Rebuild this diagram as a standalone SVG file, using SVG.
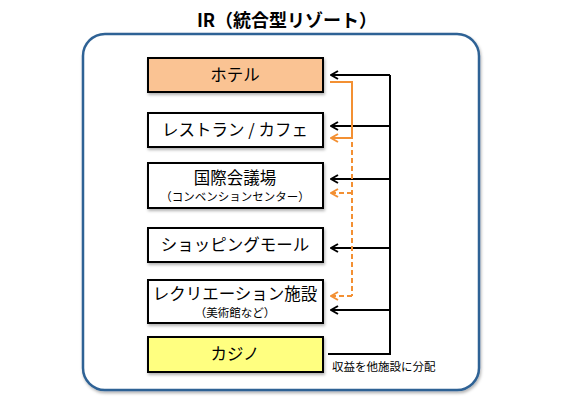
<svg xmlns="http://www.w3.org/2000/svg" width="570" height="400" viewBox="0 0 570 400">
<style>
  text { font-family: "Noto Sans CJK JP", "Liberation Sans", sans-serif; fill: #000; text-anchor: middle; }
  .box { stroke: #000; stroke-width: 2; }
  .lbl { font-size: 16.5px; }
  .sub { font-size: 11.5px; }
  .blk { stroke: #000; stroke-width: 2; fill: none; }
  .org { stroke: #f39033; stroke-width: 2; fill: none; }
  .dash { stroke-dasharray: 5 3; }
</style>
<defs>
  <marker id="ab" viewBox="0 0 10 10" refX="9" refY="5" markerWidth="10" markerHeight="10" orient="auto" markerUnits="userSpaceOnUse">
    <polyline points="2,1 9,5 2,9" fill="none" stroke="#000" stroke-width="2"/>
  </marker>
  <marker id="ao" viewBox="0 0 10 10" refX="9" refY="5" markerWidth="10" markerHeight="10" orient="auto" markerUnits="userSpaceOnUse">
    <polyline points="2,1 9,5 2,9" fill="none" stroke="#f39033" stroke-width="2"/>
  </marker>
  <filter id="sh" x="-10%" y="-10%" width="130%" height="140%">
    <feDropShadow dx="1" dy="2" stdDeviation="1.5" flood-color="#000" flood-opacity="0.3"/>
  </filter>
</defs>
<rect width="570" height="400" fill="#fff"/>
<text x="287" y="27" style="font-size:18px;font-weight:bold">IR（統合型リゾート）</text>
<rect id="frame" x="83" y="34" width="396" height="356" rx="22" fill="#fff" stroke="#2f6295" stroke-width="2.5" filter="url(#sh)"/>

<g id="hotel">
  <rect class="box" x="148" y="58" width="175" height="34" fill="#fac393" filter="url(#sh)"/>
  <text class="lbl" x="235" y="81">ホテル</text>
</g>
<g id="restaurant">
  <rect class="box" x="148" y="113" width="175" height="34" fill="#fff" filter="url(#sh)"/>
  <text class="lbl" x="235" y="136">レストラン / カフェ</text>
</g>
<g id="convention">
  <rect class="box" x="148" y="163" width="175" height="45" fill="#fff" filter="url(#sh)"/>
  <text class="lbl" x="235" y="184">国際会議場</text>
  <text class="sub" x="235" y="201">（コンベンションセンター）</text>
</g>
<g id="shopping">
  <rect class="box" x="148" y="228" width="175" height="34" fill="#fff" filter="url(#sh)"/>
  <text class="lbl" x="235" y="251">ショッピングモール</text>
</g>
<g id="recreation">
  <rect class="box" x="148" y="280" width="175" height="43" fill="#fff" filter="url(#sh)"/>
  <text class="lbl" x="235" y="300">レクリエーション施設</text>
  <text class="sub" x="235" y="317">（美術館など）</text>
</g>
<g id="casino">
  <rect class="box" x="148" y="337" width="175" height="35" fill="#ffff80" filter="url(#sh)"/>
  <text class="lbl" x="235" y="360">カジノ</text>
</g>

<g id="connectors">
  <polyline class="blk" points="328,354 390,354 390,75"/>
  <line class="blk" x1="390" y1="75" x2="331" y2="75" marker-end="url(#ab)"/>
  <line class="blk" x1="390" y1="126" x2="331" y2="126" marker-end="url(#ab)"/>
  <line class="blk" x1="390" y1="179" x2="331" y2="179" marker-end="url(#ab)"/>
  <line class="blk" x1="390" y1="248" x2="331" y2="248" marker-end="url(#ab)"/>
  <line class="blk" x1="390" y1="310" x2="331" y2="310" marker-end="url(#ab)"/>

  <polyline class="org" points="330,82 352,82 352,139"/>
  <line class="org" x1="352" y1="138" x2="331" y2="138" marker-end="url(#ao)"/>
  <line class="org dash" x1="352" y1="142" x2="352" y2="296"/>
  <line class="org dash" x1="352" y1="193" x2="331" y2="193" marker-end="url(#ao)"/>
  <line class="org dash" x1="352" y1="296" x2="331" y2="296" marker-end="url(#ao)"/>
</g>
<text x="332" y="371" style="font-size:11.5px;text-anchor:start">収益を他施設に分配</text>
</svg>
